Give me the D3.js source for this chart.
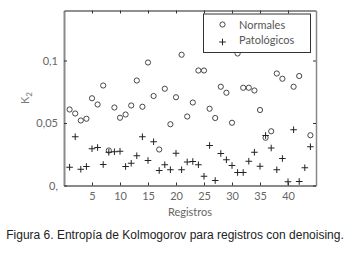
<!DOCTYPE html>
<html><head><meta charset="utf-8">
<script src="https://cdn.jsdelivr.net/npm/d3@7"></script>
<style>body{margin:0;background:#fff}svg{display:block}</style>
</head><body>
<script>
const registros = d3.range(1, 45);
const normales = [0.0608,0.0576,0.052,0.0534,0.0698,0.0648,0.080,0.028,0.0624,0.0542,
  0.0568,0.064,0.084,0.063,0.0984,0.0716,0.0288,0.0774,0.049,0.0706,
  0.1046,0.0552,0.0664,0.092,0.092,0.0614,0.054,0.079,0.0742,0.0502,
  0.1056,0.0782,0.0782,0.076,0.0604,0.0382,0.0434,0.0896,0.0854,0.118,
  0.079,0.0876,0.125,0.0402];
const patologicos = [0.0146,0.039,0.013,0.0152,0.0294,0.0304,0.0168,0.0266,0.027,0.0274,
  0.0152,0.0178,0.0238,0.039,0.020,0.035,0.012,0.0166,0.0126,0.0258,
  0.0126,0.0188,0.0192,0.0166,0.0074,0.032,0.004,0.0256,0.0206,0.016,
  0.0104,0.0104,0.0194,0.0266,0.0154,0.040,0.030,0.0126,0.0216,0.003,
  0.0446,0.0032,0.0142,0.031];
const xTicks = [5,10,15,20,25,30,35,40];
const yTicks = [0, 0.05, 0.1];
const yTickLabels = ["0,", "0,05", "0,1"];
const seriesNames = ["Normales", "Patológicos"];
const caption = "Figura 6. Entropía de Kolmogorov para registros con denoising.";

const W = 350, H = 255;
const svg = d3.select("body").append("svg").attr("width", W).attr("height", H);
const x = d3.scaleLinear().domain([0, 45]).range([64, 316]);
const y = d3.scaleLinear().domain([0, 0.14]).range([185.5, 10.5]);
const lab = "Lato, 'Open Sans', sans-serif";
const gray = "#666";

// markers
const g = svg.append("g");
g.selectAll("circle.n").data(registros).join("circle")
  .attr("cx", d => x(d)).attr("cy", (d,i) => y(normales[i])).attr("r", 2.6)
  .attr("fill", "none").attr("stroke", "#333").attr("stroke-width", 0.9);
const s = 3.3;
g.selectAll("path.p").data(registros).join("path")
  .attr("d", (d,i) => { const cx = x(d), cy = y(patologicos[i]);
    return `M${cx-s},${cy}H${cx+s}M${cx},${cy-s}V${cy+s}`; })
  .attr("stroke", "#222").attr("stroke-width", 1).attr("fill", "none");

// axes
const axB = svg.append("g").attr("transform", `translate(0,${y(0)})`)
  .call(d3.axisBottom(x).tickValues(xTicks).tickSize(-3).tickPadding(7).tickSizeOuter(0));
const axL = svg.append("g").attr("transform", `translate(${x(0)},0)`)
  .call(d3.axisLeft(y).tickValues(yTicks).tickSize(-3).tickPadding(6).tickSizeOuter(0)
    .tickFormat((d,i) => yTickLabels[i]));
const axT = svg.append("g").attr("transform", `translate(0,${y(0.14)})`)
  .call(d3.axisTop(x).tickValues(xTicks).tickSize(-3).tickFormat("").tickSizeOuter(0));
const axR = svg.append("g").attr("transform", `translate(${x(45)},0)`)
  .call(d3.axisRight(y).tickValues(yTicks).tickSize(-3).tickFormat("").tickSizeOuter(0));
[axB, axL].forEach(a => {
  a.select(".domain").attr("stroke", "#8a8a8a").attr("stroke-width", 2);
  a.selectAll(".tick line").attr("stroke", "#333");
  a.selectAll("text").attr("fill", gray).attr("font-family", lab).attr("font-size", 11);
});
axT.select(".domain").attr("stroke", "#222").attr("stroke-width", 1.2);
axR.select(".domain").attr("stroke", "#888").attr("stroke-width", 1.5);
[axT, axR].forEach(a => a.selectAll(".tick line").attr("stroke", "#333"));

// axis titles
svg.append("text").attr("x", (x(0)+x(45))/2).attr("y", 216).attr("text-anchor", "middle")
  .attr("fill", gray).attr("font-family", lab).attr("font-size", 11).text("Registros");
const yl = svg.append("text").attr("transform", "translate(29,98) rotate(-90)")
  .attr("text-anchor", "middle").attr("fill", "#777").attr("font-family", lab).attr("font-size", 11);
yl.append("tspan").text("K");
yl.append("tspan").attr("font-size", 8).attr("dy", 3).text("2");

// legend
const lg = svg.append("g");
lg.append("rect").attr("x", 203.5).attr("y", 14).attr("width", 107).attr("height", 38.5)
  .attr("fill", "#fff").attr("stroke", "#333").attr("stroke-width", 1);
lg.append("circle").attr("cx", 222.5).attr("cy", 24.5).attr("r", 2.6)
  .attr("fill", "none").attr("stroke", "#333").attr("stroke-width", 0.9);
lg.append("path").attr("d", `M${222.5-s},42H${222.5+s}M222.5,${42-s}V${42+s}`)
  .attr("stroke", "#222").attr("stroke-width", 1);
lg.selectAll("text").data(seriesNames).join("text")
  .attr("x", 239).attr("y", (d,i) => i ? 44 : 28.5)
  .attr("fill", "#555").attr("font-family", lab).attr("font-size", 11).text(d => d);

// caption
svg.append("text").attr("x", 175).attr("y", 239).attr("text-anchor", "middle")
  .attr("fill", "#222").attr("font-family", "'Liberation Sans', Arial, sans-serif")
  .attr("font-size", 12).text(caption);
</script>
</body></html>
